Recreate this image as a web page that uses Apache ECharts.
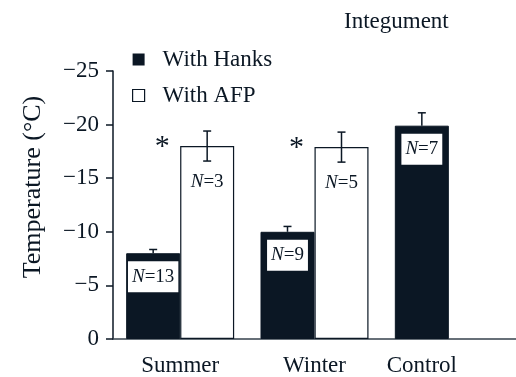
<!DOCTYPE html>
<html>
<head>
<meta charset="utf-8">
<script src="https://cdn.jsdelivr.net/npm/echarts@6/dist/echarts.min.js"></script>
<style>html,body{margin:0;padding:0;background:#fff;}#c{width:516px;height:377px;}</style>
</head>
<body>
<div id="c"></div>
<script>
var categories = ['Summer', 'Winter', 'Control'];
var hanksValues = [-8, -10, -19.9];
var hanksErrors = [0.35, 0.5, 1.2];
var hanksN = [13, 9, 7];
var afpValues = [-18, -17.9, null];
var afpErrors = [1.4, 1.4, null];
var afpN = [3, 5, null];
var afpSignificant = [true, true, false];
var yTicks = [0, -5, -10, -15, -20, -25];

var FONT = 'Liberation Serif';
var INK = '#0b1724';
var BAR_W = 54;

function nLabel(n) { return '{i|N}{n|=' + n + '}'; }

var hanksData = hanksValues.map(function (v, i) {
  return { value: v, nText: hanksN[i] };
});
var afpData = afpValues.map(function (v, i) {
  return { value: v, nText: afpN[i] };
});

var errData = [];
hanksValues.forEach(function (v, i) { errData.push([i, v, hanksErrors[i], -1, 0]); });
afpValues.forEach(function (v, i) { if (v !== null) errData.push([i, v, afpErrors[i], 1, afpSignificant[i] ? 1 : 0]); });

var richN = {
  i: { fontFamily: FONT, fontStyle: 'italic', fontSize: 19, color: INK },
  n: { fontFamily: FONT, fontSize: 19, color: INK }
};

var chart = echarts.init(document.getElementById('c'), null, { renderer: 'canvas' });
chart.setOption({
  animation: false,
  backgroundColor: '#fff',
  title: {
    text: 'Integument', left: 339, top: 5,
    textStyle: { fontFamily: FONT, fontSize: 23, fontWeight: 'normal', color: INK }
  },
  legend: {
    orient: 'vertical', left: 127, top: 43, itemWidth: 12, itemHeight: 12, itemGap: 13,
    textStyle: { fontFamily: FONT, fontSize: 23, color: INK, padding: [0, 0, 0, 13] },
    data: [
      { name: 'With Hanks', icon: 'rect', itemStyle: { color: INK, borderWidth: 0 } },
      { name: 'With AFP', icon: 'rect', itemStyle: { color: '#fff', borderColor: INK, borderWidth: 1.2 } }
    ]
  },
  grid: { left: 113, right: 0, top: 71, bottom: 36, containLabel: false },
  xAxis: {
    type: 'category', data: categories,
    axisLine: { lineStyle: { color: '#36414c', width: 1.5 } },
    axisTick: { show: false },
    axisLabel: {
      margin: 15, interval: 0, hideOverlap: false, fontFamily: FONT, fontSize: 23, color: INK,
      formatter: function (v) { return v === 'Control' ? '{c|' + v + '}' : v; },
      rich: { c: { fontFamily: FONT, fontSize: 23, color: INK, padding: [0, BAR_W, 0, 0] } }
    }
  },
  yAxis: {
    type: 'value', min: -25, max: 0, interval: 5, inverse: true,
    name: 'Temperature (\u00B0C)', nameLocation: 'middle', nameGap: 67, nameRotate: 90,
    nameTextStyle: { fontFamily: FONT, fontSize: 26, color: INK, padding: [0, 0, 0, 36] },
    axisLine: { show: true, lineStyle: { color: '#0b1724', width: 1.5 } },
    axisTick: { show: true, length: 7, lineStyle: { color: '#0b1724', width: 1.5 } },
    splitLine: { show: false },
    axisLabel: {
      margin: 14, fontFamily: FONT, fontSize: 23, color: INK,
      formatter: function (v) { return v === 0 ? '0' : '\u2212' + Math.abs(v); }
    }
  },
  series: [
    {
      name: 'With Hanks', type: 'bar', barWidth: BAR_W, barGap: 0,
      itemStyle: { color: INK, borderColor: INK, borderWidth: 1 },
      data: hanksData,
      label: {
        show: true, position: 'insideTop', distance: 8,
        backgroundColor: '#fff', padding: [6, 4, 6, 4],
        formatter: function (p) { return nLabel(p.data.nText); },
        rich: richN
      }
    },
    {
      name: 'With AFP', type: 'bar', barWidth: BAR_W, barGap: 0,
      itemStyle: { color: '#fff', borderColor: INK, borderWidth: 1.2 },
      data: afpData,
      label: {
        show: true, position: 'insideTop', distance: 20, padding: [6, 4, 6, 4],
        formatter: function (p) { return p.data.nText == null ? '' : nLabel(p.data.nText); },
        rich: richN
      }
    },
    {
      name: 'err', type: 'custom', z: 5,
      encode: { x: 0, y: 1 },
      data: errData,
      renderItem: function (params, api) {
        var ci = api.value(0), v = api.value(1), e = api.value(2), side = api.value(3), sig = api.value(4);
        var c = api.coord([ci, v]);
        var x = c[0] + side * BAR_W / 2;
        var yHi = api.coord([ci, v - e])[1];
        var yLo = side > 0 ? api.coord([ci, v + e])[1] : c[1];
        var cap = 4;
        var st = { stroke: INK, lineWidth: 1.5 };
        var children = [
          { type: 'line', shape: { x1: x, y1: yHi, x2: x, y2: yLo }, style: st },
          { type: 'line', shape: { x1: x - cap, y1: yHi, x2: x + cap, y2: yHi }, style: st }
        ];
        if (side > 0) {
          children.push({ type: 'line', shape: { x1: x - cap, y1: yLo, x2: x + cap, y2: yLo }, style: st });
        }
        if (sig) {
          children.push({
            type: 'text',
            style: { text: '*', x: c[0] - 18, y: c[1] + 1, align: 'center', verticalAlign: 'middle',
              fontFamily: FONT, fontSize: 30, fill: INK }
          });
        }
        return { type: 'group', children: children };
      }
    }
  ]
});
</script>
</body>
</html>
